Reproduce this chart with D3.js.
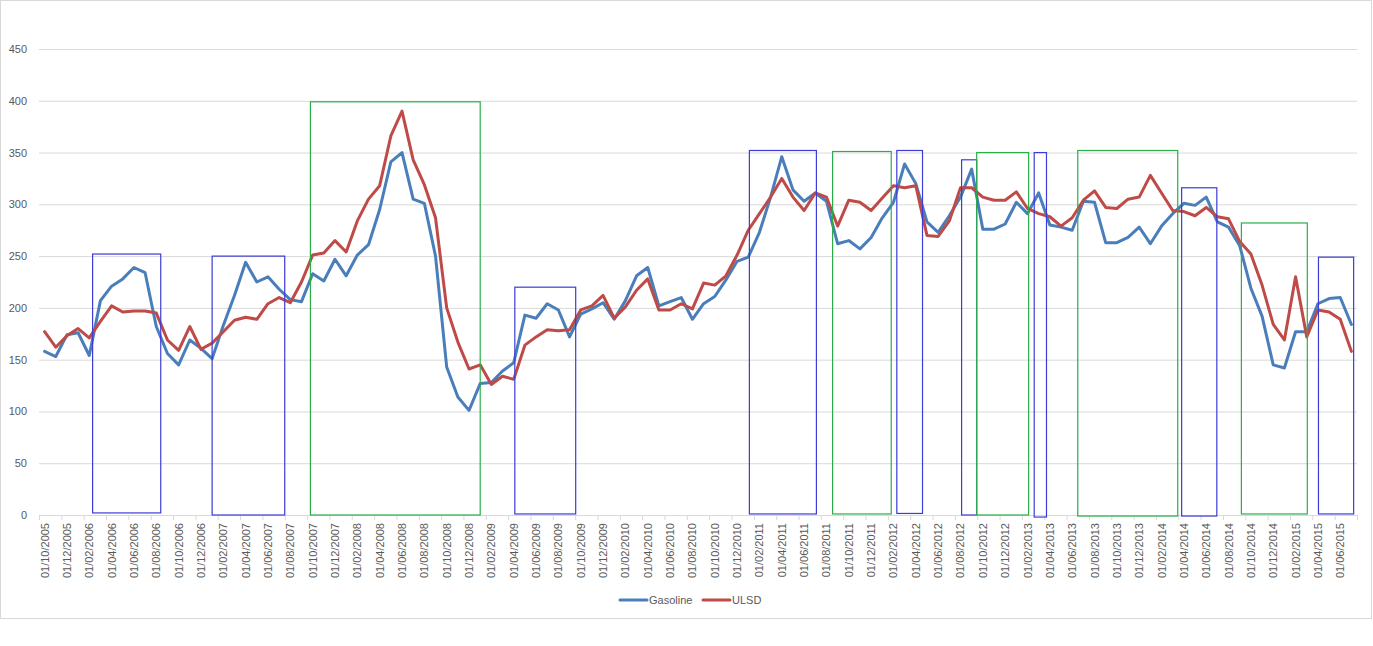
<!DOCTYPE html>
<html>

<head>
  <title>Gasoline vs ULSD</title>
  <script src="https://d3js.org/d3.v7.min.js"></script>
  <style>
    body { margin: 0; background: #fff; overflow: hidden; }
    svg { display: block; }
    text { font-family: "Liberation Sans", Arial, sans-serif; }
  </style>
</head>

<body>
  <svg width="1373" height="646" id="mainsvg"></svg>
  <script>
    // monthly categories, first one 01/10/2005, last one 01/07/2015
    const firstMonth = new Date(2005, 9, 1);
    const lastMonth = new Date(2015, 6, 1);
    const months = d3.timeMonth.range(firstMonth, d3.timeMonth.offset(lastMonth, 1));
    const fmt = d3.timeFormat('%d/%m/%Y');
    const monthLabels = months.map(fmt);

    const gasoline = [
      158, 153, 174, 176, 154, 207, 221, 228, 239, 234,
      182, 156, 145, 169, 161, 151, 183, 212, 244, 225,
      230, 218, 208, 206, 233, 226, 247, 231, 251, 261,
      295, 341, 350, 305, 301, 250, 143, 114, 101, 127,
      128, 139, 147, 193, 190, 204, 198, 172, 194, 199,
      205, 189, 207, 231, 239, 202, 206, 210, 189, 204,
      211, 227, 245, 249, 273, 307, 346, 314, 303, 311,
      303, 262, 265, 257, 268, 287, 302, 339, 320, 283,
      273, 289, 307, 334, 276, 276, 281, 302, 291, 311,
      280, 278, 275, 303, 302, 263, 263, 268, 278, 262,
      279, 291, 301, 299, 307, 283, 278, 260, 219, 192,
      145, 142, 177, 177, 204, 209, 210, 184
    ];
    const ulsd = [
      177, 162, 173, 180, 171, 187, 202, 196, 197, 197,
      195, 169, 159, 182, 160, 166, 177, 188, 191, 189,
      204, 210, 205, 225, 251, 253, 265, 254, 284, 305,
      318, 366, 390, 343, 319, 287, 200, 167, 141, 145,
      126, 134, 131, 164, 172, 179, 178, 179, 198, 202,
      212, 190, 201, 217, 228, 198, 198, 204, 199, 224,
      222, 231, 251, 275, 291, 307, 325, 307, 294, 311,
      307, 279, 304, 302, 294, 306, 318, 316, 318, 270,
      269, 284, 316, 316, 307, 304, 304, 312, 296, 291,
      288, 279, 287, 304, 313, 297, 296, 305, 307, 328,
      311, 294, 293, 289, 297, 288, 286, 264, 252, 222,
      184, 169, 230, 172, 198, 196, 189, 158
    ];
    const seriesNames = ['Gasoline', 'ULSD'];
    const yTicks = [0, 50, 100, 150, 200, 250, 300, 350, 400, 450];

    // drawn boxes over the chart, in month index / value units
    const boxFrom   = [4.3, 15.0, 23.8, 42.1, 63.1, 70.55, 76.3, 82.1, 83.45, 88.6, 92.5, 101.8, 107.15, 114.05];
    const boxTo     = [10.4, 21.5, 39.0, 47.55, 69.1, 75.8, 78.6, 83.45, 88.1, 89.7, 101.45, 104.95, 113.05, 117.2];
    const boxTop    = [252, 250, 399, 220, 352, 351, 352, 343, 350, 350, 352, 316, 282, 249];
    const boxBottom = [2, 0, 0, 1, 1, 1, 1.5, 0, 0, -2, -1, -1, 1, 1];
    const boxKind   = ['b', 'b', 'g', 'b', 'b', 'g', 'b', 'b', 'g', 'b', 'g', 'b', 'g', 'b'];

    const colors = { Gasoline: '#4a7ebb', ULSD: '#be4b48' };
    const boxColors = { b: '#3c3cd6', g: '#2aae4a' };
    const textColor = '#595959';

    const svg = d3.select('#mainsvg');
    const width = +svg.attr('width');
    const height = +svg.attr('height');
    const margin = { top: 49, right: 16, bottom: 131, left: 39 };
    const innerWidth = width - margin.left - margin.right;
    const innerHeight = height - margin.top - margin.bottom;

    // chart area border
    svg.append('rect')
      .attr('x', 0.5).attr('y', 0.5)
      .attr('width', 1371).attr('height', 618)
      .attr('fill', '#fff').attr('stroke', '#d9d9d9');

    const g = svg.append('g').attr('id', 'maingroup')
      .attr('transform', `translate(${margin.left}, ${margin.top})`);

    const xScale = d3.scaleLinear()
      .domain([-0.5, months.length - 0.5])
      .range([0, innerWidth]);
    const yScale = d3.scaleLinear()
      .domain([0, 450])
      .range([innerHeight, 0]);

    // gridlines
    const grid = g.append('g')
      .call(d3.axisLeft(yScale).tickValues(yTicks.slice(1)).tickSize(-innerWidth).tickFormat(''));
    grid.select('.domain').remove();
    grid.selectAll('text').remove();
    grid.selectAll('line').attr('stroke', '#d9d9d9');

    // y labels
    const yAxisGroup = g.append('g')
      .call(d3.axisLeft(yScale).tickValues(yTicks).tickSize(0).tickPadding(12));
    yAxisGroup.select('.domain').remove();
    yAxisGroup.selectAll('text')
      .attr('fill', textColor).attr('font-size', '11px');

    // x tick marks sit between categories, every second one
    const boundaries = d3.range(-0.5, months.length, 2);
    const xTickGroup = g.append('g')
      .attr('transform', `translate(0, ${innerHeight})`)
      .call(d3.axisBottom(xScale).tickValues(boundaries).tickSize(5).tickSizeOuter(0).tickFormat(''));
    xTickGroup.selectAll('text').remove();
    xTickGroup.select('.domain').attr('stroke', '#d9d9d9');
    xTickGroup.selectAll('line').attr('stroke', '#d9d9d9');

    // x labels on every second month, written bottom to top
    const labelIdx = d3.range(0, months.length - 1, 2);
    g.append('g')
      .selectAll('text')
      .data(labelIdx)
      .join('text')
      .attr('transform', i => `translate(${xScale(i) + 4}, ${innerHeight + 8}) rotate(-90)`)
      .attr('text-anchor', 'end')
      .attr('fill', textColor)
      .attr('font-size', '11px')
      .text(i => monthLabels[i]);

    // the two series
    const line = d3.line()
      .x((d, i) => xScale(i))
      .y(d => yScale(d));
    [gasoline, ulsd].forEach((values, k) => {
      g.append('path')
        .datum(values)
        .attr('d', line)
        .attr('fill', 'none')
        .attr('stroke', colors[seriesNames[k]])
        .attr('stroke-width', 3)
        .attr('stroke-linejoin', 'round')
        .attr('stroke-linecap', 'round');
    });

    // boxes
    boxFrom.forEach((from, k) => {
      const x0 = xScale(from), x1 = xScale(boxTo[k]);
      const y0 = yScale(boxTop[k]), y1 = yScale(boxBottom[k]);
      g.append('rect')
        .attr('x', x0).attr('y', y0)
        .attr('width', x1 - x0).attr('height', y1 - y0)
        .attr('fill', 'none')
        .attr('stroke', boxColors[boxKind[k]])
        .attr('stroke-width', 1.2);
    });

    // legend
    const legend = svg.append('g').attr('transform', 'translate(620, 600)');
    const legendX = [0, 83];
    seriesNames.forEach((name, k) => {
      const item = legend.append('g').attr('transform', `translate(${legendX[k]}, 0)`);
      item.append('line')
        .attr('x1', 0).attr('x2', 27).attr('y1', 0).attr('y2', 0)
        .attr('stroke', colors[name]).attr('stroke-width', 3)
        .attr('stroke-linecap', 'round');
      item.append('text')
        .attr('x', 29).attr('y', 4)
        .attr('fill', textColor).attr('font-size', '11px')
        .text(name);
    });
  </script>
</body>

</html>
